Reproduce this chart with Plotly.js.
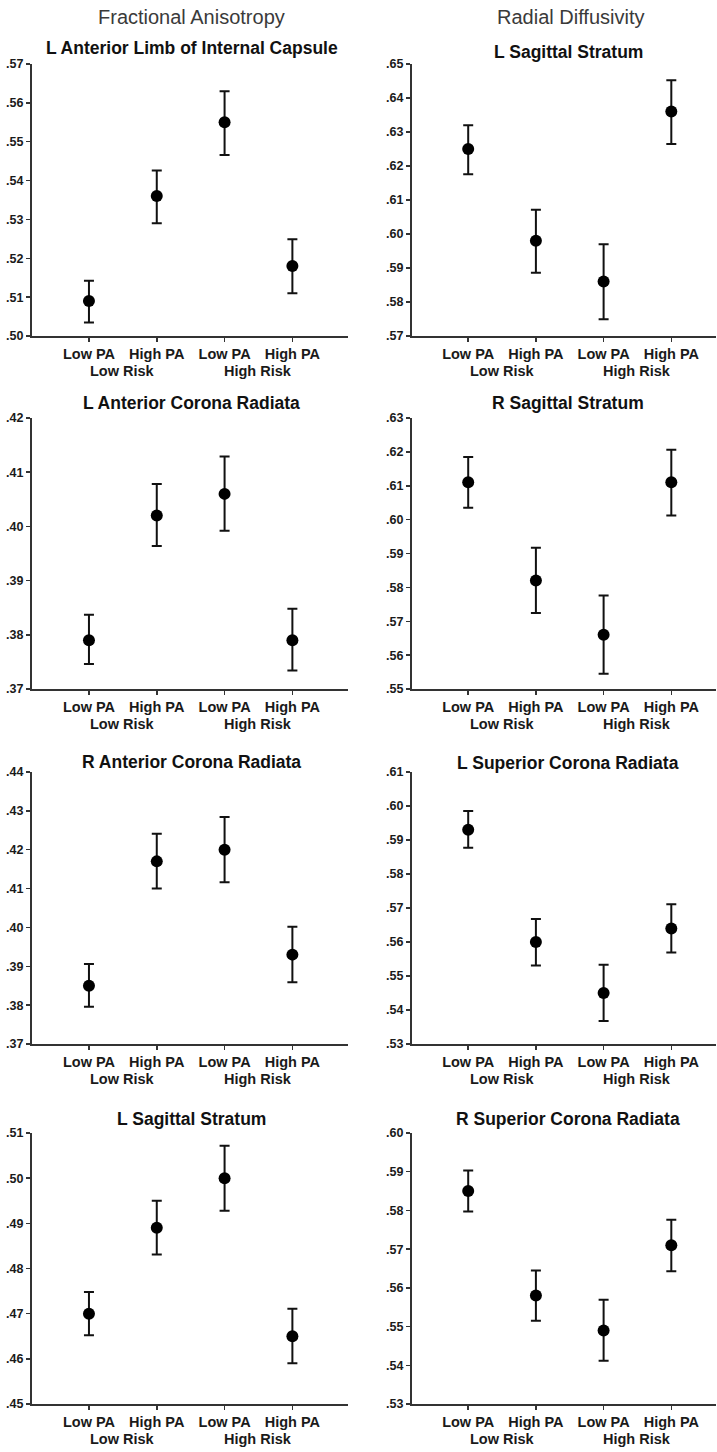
<!DOCTYPE html>
<html>
<head>
<meta charset="utf-8">
<script src="https://cdn.plot.ly/plotly-3.0.1.min.js"></script>
<style>html,body{margin:0;padding:0;background:#fff;}#chart{width:717px;height:1452px;}</style>
</head>
<body>
<div id="chart"></div>
<script>
// ---------- data ----------
const categories = ["Low PA", "High PA", "Low PA", "High PA"];
const riskGroups = ["Low Risk", "High Risk"];
const columnHeaders = ["Fractional Anisotropy", "Radial Diffusivity"];

const panelTitles = [
  "L Anterior Limb of Internal Capsule",
  "L Anterior Corona Radiata",
  "R Anterior Corona Radiata",
  "L Sagittal Stratum",
  "L Sagittal Stratum",
  "R Sagittal Stratum",
  "L Superior Corona Radiata",
  "R Superior Corona Radiata"
];

// Fractional anisotropy
const faLALICMean  = [0.509, 0.536, 0.555, 0.518];
const faLALICUpper = [0.5142, 0.5426, 0.5630, 0.5249];
const faLALICLower = [0.5035, 0.5290, 0.5466, 0.5110];

const faLACRMean  = [0.379, 0.402, 0.406, 0.379];
const faLACRUpper = [0.3837, 0.4078, 0.4129, 0.3848];
const faLACRLower = [0.3746, 0.3964, 0.3992, 0.3734];

const faRACRMean  = [0.385, 0.417, 0.420, 0.393];
const faRACRUpper = [0.3906, 0.4241, 0.4284, 0.4002];
const faRACRLower = [0.3796, 0.4100, 0.4116, 0.3859];

const faLSSMean  = [0.470, 0.489, 0.500, 0.465];
const faLSSUpper = [0.4748, 0.4950, 0.5072, 0.4711];
const faLSSLower = [0.4652, 0.4831, 0.4928, 0.4590];

// Radial diffusivity
const rdLSSMean  = [0.625, 0.598, 0.586, 0.636];
const rdLSSUpper = [0.6320, 0.6071, 0.5970, 0.6452];
const rdLSSLower = [0.6176, 0.5886, 0.5749, 0.6265];

const rdRSSMean  = [0.611, 0.582, 0.566, 0.611];
const rdRSSUpper = [0.6185, 0.5917, 0.5776, 0.6206];
const rdRSSLower = [0.6035, 0.5724, 0.5545, 0.6012];

const rdLSCRMean  = [0.593, 0.560, 0.545, 0.564];
const rdLSCRUpper = [0.5985, 0.5668, 0.5533, 0.5711];
const rdLSCRLower = [0.5877, 0.5531, 0.5368, 0.5569];

const rdRSCRMean  = [0.585, 0.558, 0.549, 0.571];
const rdRSCRUpper = [0.5903, 0.5645, 0.5569, 0.5776];
const rdRSCRLower = [0.5797, 0.5515, 0.5412, 0.5643];

// y tick labels per panel
const yTicks1 = [".50", ".51", ".52", ".53", ".54", ".55", ".56", ".57"];
const yTicks2 = [".37", ".38", ".39", ".40", ".41", ".42"];
const yTicks3 = [".37", ".38", ".39", ".40", ".41", ".42", ".43", ".44"];
const yTicks4 = [".45", ".46", ".47", ".48", ".49", ".50", ".51"];
const yTicks5 = [".57", ".58", ".59", ".60", ".61", ".62", ".63", ".64", ".65"];
const yTicks6 = [".55", ".56", ".57", ".58", ".59", ".60", ".61", ".62", ".63"];
const yTicks7 = [".53", ".54", ".55", ".56", ".57", ".58", ".59", ".60", ".61"];
const yTicks8 = [".53", ".54", ".55", ".56", ".57", ".58", ".59", ".60"];

// ---------- build ----------
const panels = [
  {mean: faLALICMean, up: faLALICUpper, lo: faLALICLower, ticks: yTicks1},
  {mean: faLACRMean,  up: faLACRUpper,  lo: faLACRLower,  ticks: yTicks2},
  {mean: faRACRMean,  up: faRACRUpper,  lo: faRACRLower,  ticks: yTicks3},
  {mean: faLSSMean,   up: faLSSUpper,   lo: faLSSLower,   ticks: yTicks4},
  {mean: rdLSSMean,   up: rdLSSUpper,   lo: rdLSSLower,   ticks: yTicks5},
  {mean: rdRSSMean,   up: rdRSSUpper,   lo: rdRSSLower,   ticks: yTicks6},
  {mean: rdLSCRMean,  up: rdLSCRUpper,  lo: rdLSCRLower,  ticks: yTicks7},
  {mean: rdRSCRMean,  up: rdRSCRUpper,  lo: rdRSCRLower,  ticks: yTicks8}
];

const W = 717, H = 1452;
const colX = [[32, 348], [412, 716]];
const colRange = [[-0.84, 3.82], [-0.83, 3.66]];
const rowY = [[64, 336], [418, 689], [772, 1044], [1133, 1404]];
const titleY = [[48, 52], [403, 403], [762, 763], [1119, 1119]];
const titleX = [192, 568];
const headerY = 17;
const headerX = [192, 570];

const axisColor = "#333";
const tickFont = {family: "Liberation Sans, Arial, sans-serif", size: 12.5, color: "#1a1a1a", weight: "bold"};
const xFont = {family: "Liberation Sans, Arial, sans-serif", size: 14.5, color: "#1a1a1a", weight: "bold"};

const data = [];
const layout = {
  width: W, height: H,
  margin: {l: 0, r: 0, t: 0, b: 0},
  paper_bgcolor: "#fff", plot_bgcolor: "#fff",
  showlegend: false,
  annotations: []
};

const xIdx = categories.map((_, i) => i);

panels.forEach((p, k) => {
  const col = k < 4 ? 0 : 1;
  const row = k % 4;
  const n = k + 1;
  const xa = "x" + n, ya = "y" + n;
  data.push({
    type: "scatter", mode: "markers",
    x: xIdx, y: p.mean,
    xaxis: xa, yaxis: ya,
    marker: {color: "#000", size: 12},
    error_y: {
      type: "data", symmetric: false,
      array: p.mean.map((m, i) => p.up[i] - m),
      arrayminus: p.mean.map((m, i) => m - p.lo[i]),
      color: "#111", thickness: 2, width: 5
    },
    hoverinfo: "skip"
  });
  const tv = p.ticks.map(t => parseFloat(t));
  layout["xaxis" + n] = {
    domain: [colX[col][0] / W, colX[col][1] / W],
    anchor: ya,
    range: colRange[col],
    tickvals: xIdx, ticktext: categories,
    showline: true, linecolor: axisColor, linewidth: 2,
    ticks: "outside", ticklen: 4, tickwidth: 1.5, tickcolor: axisColor,
    showgrid: false, zeroline: false,
    tickfont: xFont, fixedrange: true
  };
  layout["yaxis" + n] = {
    domain: [1 - rowY[row][1] / H, 1 - rowY[row][0] / H],
    anchor: xa,
    range: [tv[0], tv[tv.length - 1]],
    tickvals: tv, ticktext: p.ticks,
    showline: true, linecolor: axisColor, linewidth: 2,
    ticks: "outside", ticklen: 4, tickwidth: 1.5, tickcolor: axisColor,
    showgrid: false, zeroline: false,
    tickfont: tickFont, fixedrange: true
  };
  // panel title
  layout.annotations.push({
    xref: "paper", yref: "paper",
    x: titleX[col] / W, y: 1 - titleY[row][col] / H,
    xanchor: "center", yanchor: "middle",
    text: "<b>" + panelTitles[k] + "</b>", showarrow: false,
    font: {family: "Liberation Sans, Arial, sans-serif", size: 17.5, color: "#111"}
  });
  // risk group labels
  riskGroups.forEach((g, gi) => {
    layout.annotations.push({
      xref: xa, yref: "paper",
      x: (xIdx[gi * 2] + xIdx[gi * 2 + 1]) / 2,
      y: 1 - (rowY[row][1] + 35) / H,
      xanchor: "center", yanchor: "middle",
      text: "<b>" + g + "</b>", showarrow: false,
      font: xFont
    });
  });
});

columnHeaders.forEach((h, i) => {
  layout.annotations.push({
    xref: "paper", yref: "paper",
    x: headerX[i] / W, y: 1 - headerY / H,
    xanchor: "center", yanchor: "middle",
    text: h, showarrow: false,
    font: {family: "Liberation Sans, Arial, sans-serif", size: 20, color: "#3a3a3a"}
  });
});

Plotly.newPlot("chart", data, layout, {displayModeBar: false, staticPlot: true});
</script>
</body>
</html>
